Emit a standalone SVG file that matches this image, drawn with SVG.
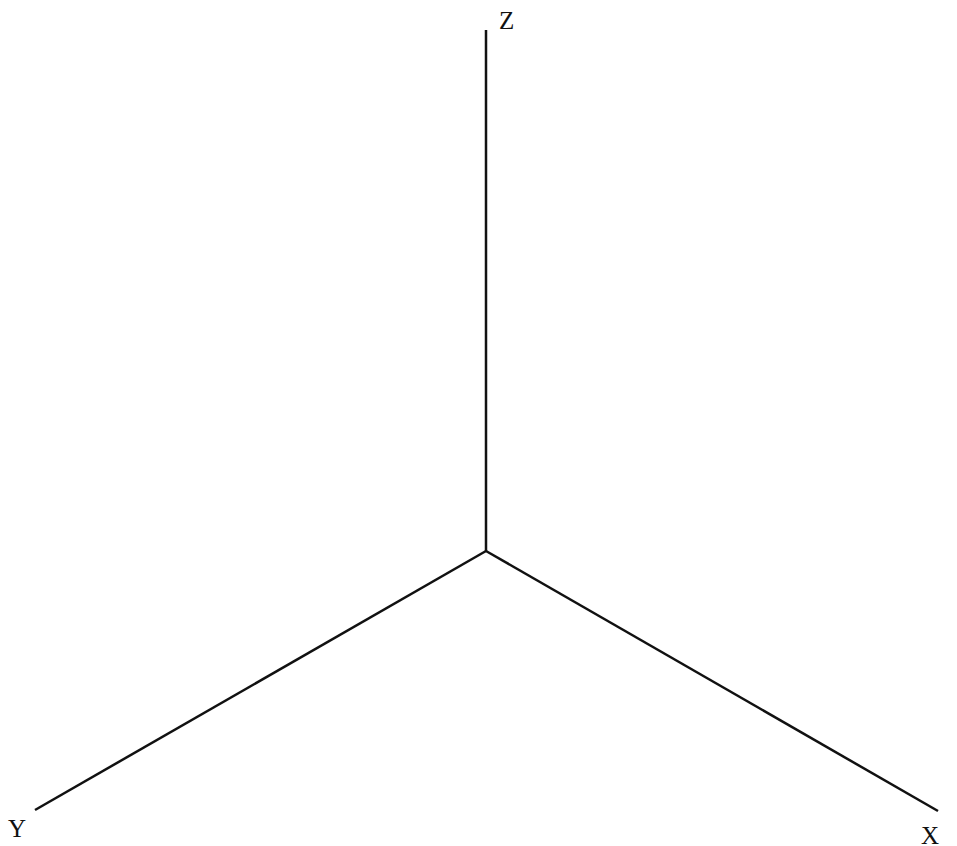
<svg xmlns="http://www.w3.org/2000/svg" width="957" height="846" viewBox="0 0 957 846">
<style>
.ax{stroke:#111;stroke-width:2.5;fill:none;stroke-linecap:butt}
.lb{font-family:"Liberation Serif",serif;font-size:25px;fill:#111}
</style>
<rect width="957" height="846" fill="#fff"/>
<g id="connectors">
<line class="ax" x1="486" y1="551" x2="486" y2="30"/>
<line class="ax" x1="486" y1="551" x2="35" y2="810"/>
<line class="ax" x1="486" y1="551" x2="938" y2="811"/>
</g>
<g id="label-z"><text class="lb" x="499" y="29">Z</text></g>
<g id="label-y"><text class="lb" x="8" y="837">Y</text></g>
<g id="label-x"><text class="lb" x="921" y="844">X</text></g>
</svg>
